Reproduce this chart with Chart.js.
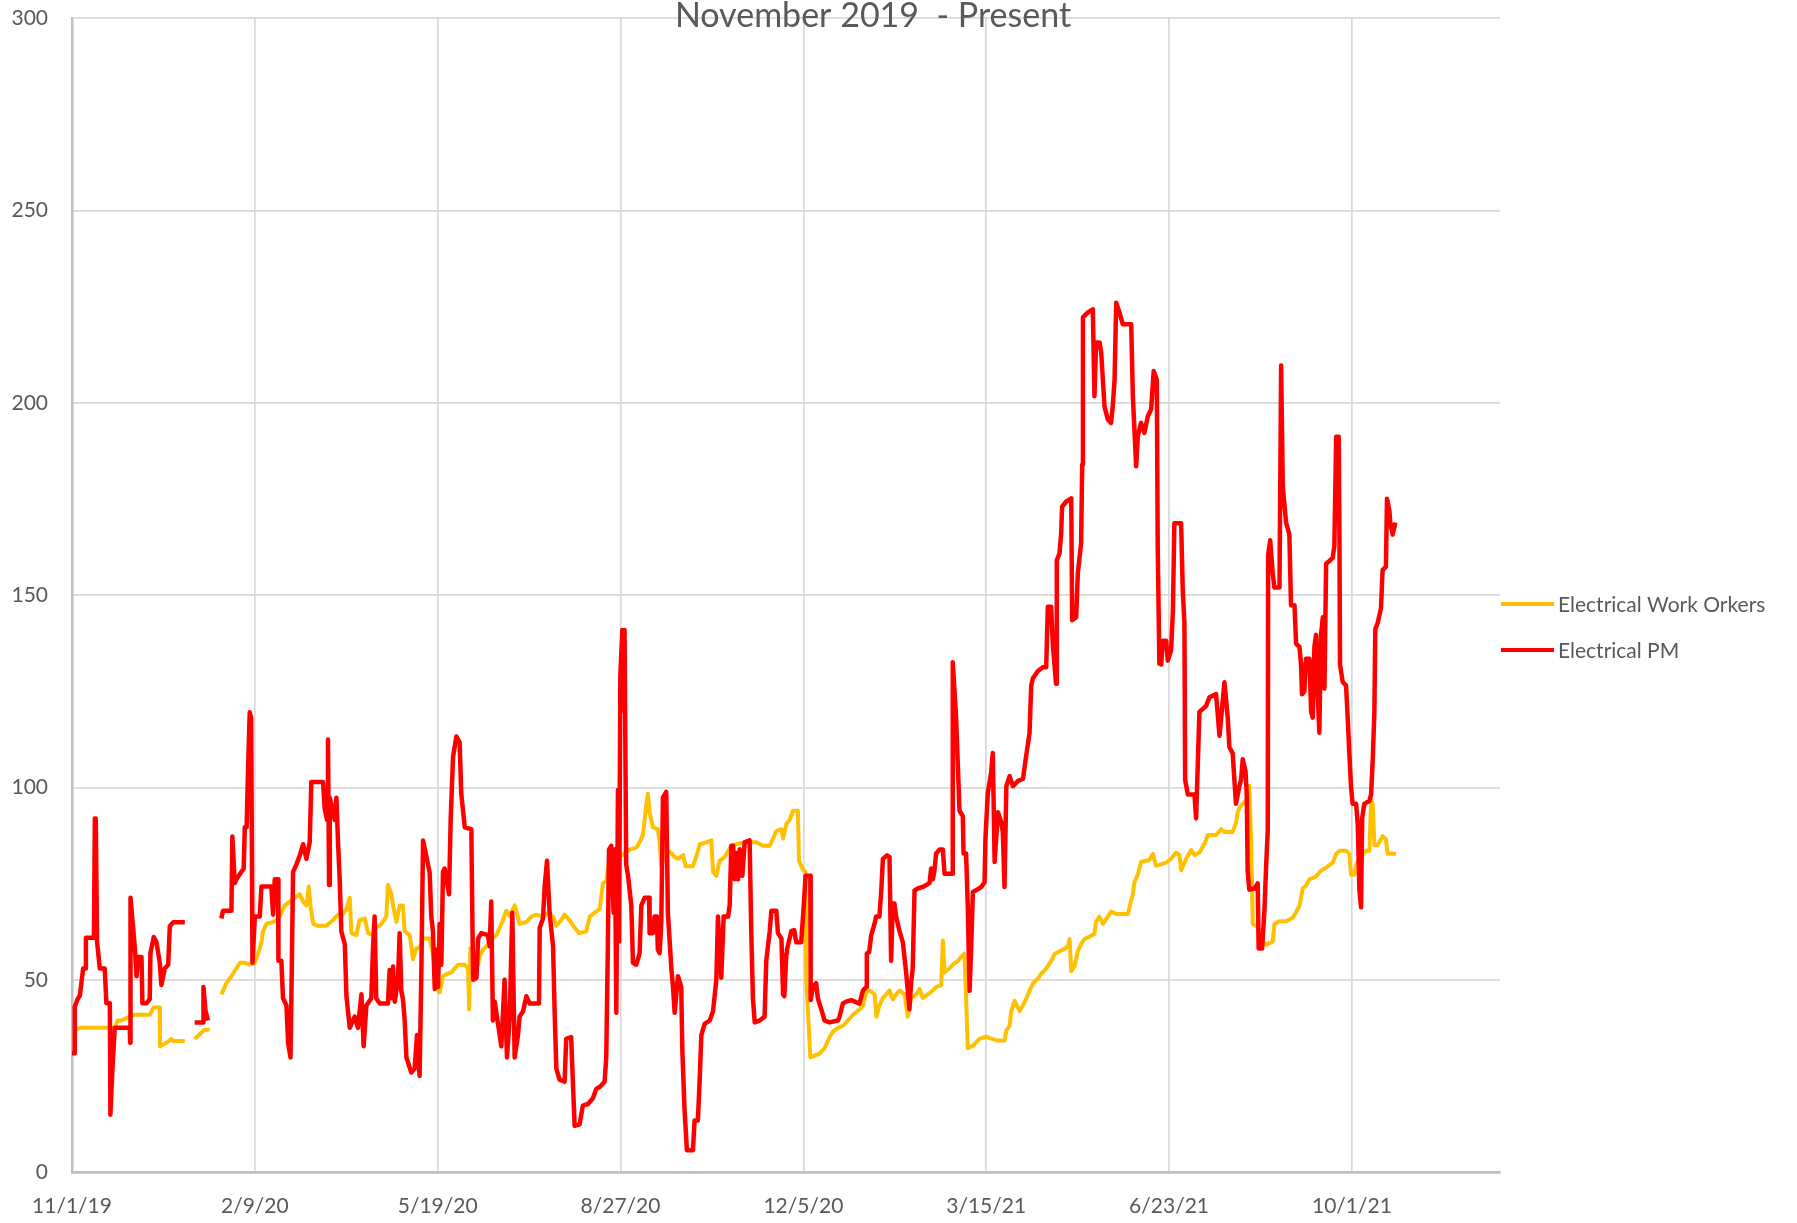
<!DOCTYPE html>
<html>
<head>
<meta charset="utf-8">
<title>Electrical Work Orders vs PM</title>
<script src="https://cdn.jsdelivr.net/npm/chart.js@4.4.1/dist/chart.umd.min.js"></script>
<style>
  html, body { margin: 0; padding: 0; background: #fff; }
  #wrap { width: 1797px; height: 1223px; }
</style>
</head>
<body>
<div id="wrap"><canvas id="chart" width="1797" height="1223"></canvas></div>
<script>
/* ========== DATA ========== */
// x = days since 11/1/19, null = no data (gap in the line)
const chartTitle = "November 2019  - Present";
const xTickLabels = ["11/1/19", "2/9/20", "5/19/20", "8/27/20", "12/5/20", "3/15/21", "6/23/21", "10/1/21"];
const xTickStep = 100;
const xMaxDay = 781;

const woLabel = "Electrical Work Orkers";
const woDays = [
  0, 1.2, 2, 4.3, 23.4, 25, 27, 31.6, 34.3, 42.5, 44.7, 48, 48.1, 51.6, 54.4, 55.3, 61.7,
  64,
  67.1, 70, 72.5, 75.3,
  78,
  81.7, 84.4, 87.2, 91.8, 94.5, 97.2, 100, 101.8, 103.6, 104.5, 106.3, 110, 111.8, 113.6, 116.4,
  119.1, 121.8, 124.6, 126.4, 128.2, 129.5, 130.4, 131.9, 134.6, 139.1, 142.8, 145.5, 147.3,
  150.1, 151.9, 152.8, 155.5, 157.3, 160.1, 161.9, 164.6, 166.4, 169.2, 171.9, 172.8, 174.7,
  175.6, 177.4, 179.2, 181, 181.9, 184.7, 186.5, 188.3, 190.2, 192, 195.6, 197.4, 199.3, 201.1,
  202.9, 204.7, 207.5, 209.3, 211.1, 214.8, 216.6, 217.2, 217.9, 220.3, 222.1, 223, 224.8,
  226.6, 229.3, 232.1, 233.9, 235.7, 237.5, 239.4, 242.1, 243, 244.8, 248.5, 251.2, 254,
  257.6, 260.3, 263.1, 264.9, 267.6, 269.4, 272.1, 274.9, 277.6, 281.3, 283.1, 285.8, 288.6,
  290.4, 292.2, 294, 299.5, 305, 308.6, 310.4, 312.3, 314.1, 315, 315.9, 317.7, 320.4, 321.4,
  322.3, 325, 327.8, 329.6, 331.4, 334.2, 335.6, 339.6, 341.4, 343.3, 346.9, 349.7, 350.6,
  352.4, 354.2, 357, 360.6, 367, 370.6, 374.3, 377.9, 381.6, 383.4, 385.2, 388, 388.9, 390.7,
  392.5, 394.3, 397, 397.6, 399.8, 401.2, 401.6, 403.1, 403.8, 408.9, 411.6, 414.3, 416.2,
  418.9, 421.6, 424.4, 427.1, 430.7, 432.6, 434.4, 436.2, 439, 439.9, 441.6, 443.5, 445.3,
  447.1, 448.9, 450.7, 452.6, 455.3, 457.1, 458.9, 461.7, 463.5, 465.3, 468.1, 470.8, 472.6,
  475.4, 476.3, 477.2, 479.9, 481.7, 484.5, 486.3, 488.1, 489, 489.9, 492.7, 496.3, 500,
  505.5, 510, 511, 512.8, 513.7, 515.5, 518.2, 520.1, 521.9, 523.7, 525.5, 528.3, 530.1,
  532.8, 535.5, 537.4, 540.1, 542.8, 544.7, 545.6, 546.5, 548.3, 550.1, 551.9, 553.8, 556.5,
  559.2, 560.1, 561.9, 563.8, 565.6, 568.3, 571.1, 577.5, 578.4, 580.2, 581.1, 582.9, 584.7,
  589.3, 591.1, 592.9, 598.4, 601.1, 603.8, 605.7, 606.6, 609.3, 612.1, 613.9, 616.6, 619.4,
  621.2, 625.7, 628.5, 630.3, 634.8, 636.6, 637.6, 639.4, 641.2, 643, 643.9, 644.9, 645.8,
  648.5, 650.3, 653.1, 656.7, 657.6, 660.4, 664, 667.7, 669.5, 671.3, 672.2, 673.1, 675,
  676.8, 680.4, 683.1, 685.9, 689.5, 691.4, 693.2, 696.8, 698.6, 699.5, 701.4, 702.3, 704.1,
  707.8, 709.6, 710.5, 711.4, 712.3, 714.1, 716.8, 718.6, 719.5, 724.1
];
const woValues = [
  35.2, 35.5, 37.1, 37.6, 37.6, 39.5, 39.5, 40.5, 41, 41, 42.9, 42.9, 32.8, 33.7, 34.7, 34.2, 34.2,
  null,
  34.7, 36, 37.1, 37.1,
  null,
  46.3, 49.2, 51, 54.5, 54.5, 54, 54.5, 56.9, 59.8, 62.7, 64.6, 65.1, 65.6, 66.5, 69.4,
  70.4, 71.4, 72.3, 70.4, 69.4, 74.3, 69.4, 64.6, 64.1, 64.1, 65.6, 67, 66.5,
  68.5, 71.4, 62.2, 61.7, 65.6, 66, 62.2, 61.7, 63.6, 64.6, 66.5, 74.7, 72.3,
  69.4, 65.1, 69.4, 69.4, 62.7, 61.7, 55.4, 58.3, 58.3, 60.8, 60.8, 56.9, 48.2, 46.8,
  51, 51.5, 52, 53, 54, 54, 53, 42.4, 58.3, 57, 54, 56.4, 57.9,
  58.8, 60.8, 61.7, 63.6, 65.6, 68, 66.5, 69.4, 68, 64.6, 65.1, 66.5, 67,
  66.5, 67.5, 66.5, 64.1, 65.6, 67, 65.6, 63.6, 62.2, 62.7, 66.5, 67.5, 68.5,
  75.2, 75.7, 82, 82, 83.9, 84.4, 85.8, 87.8, 95.5, 98.4, 93.5, 89.7, 89.2, 85.8,
  79.6, 83.9, 83, 82, 81.5, 82.5, 79.6, 79.6, 82, 85.3, 85.8, 86.3, 78.1,
  77.1, 81, 82, 84.9, 85.8, 85.8, 85.8, 84.9, 84.9, 86.8, 88.7, 89.2, 86.8, 90.6,
  91.6, 94, 94, 81, 78.6, 78.1, 50.1, 36.6, 29.9, 30.9, 32.3, 35.2, 36.6,
  37.6, 38.1, 39.5, 41, 42.4, 43.4, 46.8, 47.3, 46.3, 40.5, 43.4, 45.3, 46.3,
  47.3, 45, 46.3, 47.3, 46.3, 40.5, 45.3, 46.3, 47.7, 45.3, 46.3, 47.3, 48.2,
  48.7, 60.3, 52, 53, 54, 55, 56, 56.9, 45.3, 32.3, 32.9, 34.7, 35.3,
  34.3, 34.3, 36.9, 38.1, 42, 44.6, 42, 43.4, 45.2, 47.2, 49.1, 50.4, 51.7,
  53, 54.9, 56.8, 57.5, 58.1, 58.8, 60.7, 52.3, 53.6, 57.5, 59.4, 60.7, 61.3,
  62, 65.2, 66.5, 64.6, 65.8, 67.8, 67.2, 67.2, 69.1, 72.3, 75.5, 77.4, 80.7,
  81.2, 82.8, 79.7, 80.5, 81.5, 83.1, 82.5, 78.5, 81.5, 83.8, 82.5, 83.1, 85.4,
  87.7, 87.7, 89.2, 88.5, 88.5, 90.8, 93.8, 95.4, 96.2, 97, 100.5, 86.2, 64.6,
  63.8, 60, 59.2, 60, 64.6, 65.3, 65.3, 66.2, 67.7, 69.2, 71.5, 73.8, 74.6,
  76.2, 76.9, 78.5, 79.2, 80.5, 82.8, 83.6, 83.6, 82.8, 77.4, 77.4, 80, 81.5,
  83.6, 83.6, 97, 95.8, 85.1, 85.1, 87.4, 86.6, 82.8, 82.8
];

const pmLabel = "Electrical PM";
const pmDays = [
  0, 1.2, 1.5, 3, 4.3, 6.1, 7.5, 7.6, 11.5, 12, 12.5, 13, 13.7, 15.2, 17.9, 18.8, 20.7, 21,
  22.1, 23.4, 31.6, 31.8, 32, 34.3, 35.3, 36, 38, 38.5, 40.7, 42.5, 42.9, 44.7, 46.2, 48, 48.9,
  50.7, 52.6, 53.5, 55.3, 61.7,
  64,
  67.1, 71.7, 71.9, 73, 74.4,
  78,
  81.7, 82.6, 87.2, 87.7, 89, 89.9, 93.9, 94.5, 95.5, 96.3, 97.2, 98, 98.7, 100, 102.7, 103.6,
  109, 110, 110.9, 112.7, 112.9, 114.5, 115.4, 117.3, 118.2, 119.5, 120, 120.9, 122.7, 124.6,
  126.4, 128.2, 130, 130.9, 137.3, 138.2, 139.5, 140, 140.6, 141, 143.7, 144.6, 145.5, 146.4,
  147.3, 149.2, 150.1, 151.9, 154.6, 156.4, 158.3, 159.5, 161, 163.7, 164.6, 165.5, 166.4,
  168.3, 172.8, 173.7, 174.7, 175.6, 176.5, 178.3, 179.2, 180.1, 181, 181.9, 182.9, 185.6,
  187.4, 188.7, 190.1, 191.1, 192, 193, 195.6, 196.5, 197.4, 198.4, 199.3, 200.2, 201.1, 202,
  202.9, 203.8, 206.2, 207.1, 208.4, 210.2, 212, 212.9, 214.8, 218.4, 219, 219.4, 221.2, 222.1,
  223.9, 227.5, 228.4, 229.3, 230.2, 231.2, 233, 234.8, 236.6, 237.9, 239.4, 240.8, 242.1,
  243.9, 244.8, 246.7, 248.5, 250.3, 255.4, 255.8, 257.6, 258.5, 259.8, 261.2, 263.1, 264,
  264.9, 266.7, 269.4, 270.3, 273, 273.9, 274.9, 277.6, 279.4, 282.2, 284.9, 286.7, 288.6,
  291.3, 292.2, 293.1, 293.7, 294.9, 296.2, 297, 297.7, 298.6, 299.2, 299.9, 301, 301.6, 302.2,
  303.1, 304.1, 305.9, 306.8, 308.6, 310.4, 311.4, 313.2, 315.6, 315.9, 317.7, 318.6, 319.9,
  320.4, 321.4, 322.3, 323.2, 325, 325.9, 327.8, 328.7, 329.6, 331.4, 333.2, 333.8, 335, 336.3,
  339.6, 340.5, 342.3, 343.3, 344.2, 346, 348.8, 350.6, 352.4, 353.3, 355.1, 356.4, 358.8,
  359.7, 360.6, 361.6, 362.4, 363.3, 364.3, 365.2, 366.6, 367.9, 370.6, 371.5, 372.4, 373.4,
  376.1, 378.8, 379.7, 381.6, 382.5, 385.2, 386.1, 388, 388.9, 389.6, 390.7, 391, 393.4, 395,
  396.1, 398.8, 400.1, 401.2, 403.8, 404, 405.2, 407, 407.9, 409.8, 411.6, 414.3, 418.9, 419.8,
  421.6, 423.4, 426.2, 430.7, 432.6, 434.4, 434.7, 436, 437.1, 438.9, 439.8, 441.6, 442.6,
  443.5, 445.7, 447.1, 448, 448.9, 449.8, 450.7, 452.6, 454.4, 456.2, 457.1, 458, 458.9, 459.8,
  460.8, 462.6, 465.3, 467.2, 469, 469.9, 470.8, 471.7, 472.6, 474.5, 476.3, 477.2, 481.4,
  481.7, 483.5, 485.4, 487.2, 487.6, 489, 489.9, 490.9, 491.8, 492.7, 495.4, 497.3, 499.1,
  499.6, 500.9, 502.7, 503.6, 504.6, 506.4, 508.2, 509.1, 510, 511, 512.8, 514.6, 517.3, 520.1,
  521.9, 523.7, 524.6, 525.5, 528.3, 531, 532.8, 533.7, 535.5, 536.4, 538.2, 538.6, 540.1, 541,
  541.5, 543.7, 546.5, 547, 549.2, 550.1, 551.9, 552.5, 552.9, 555.6, 558.3, 559.2, 560.1, 562,
  562.9, 564.7, 566.5, 568.3, 569.2, 570.2, 571.1, 572.9, 574.7, 579.3, 580.2, 582, 582.9,
  584.7, 586.5, 588.4, 590.2, 591.6, 593.3, 593.8, 594.7, 595.7, 596.6, 598.4, 599.3, 601.1,
  602.1, 602.9, 606.6, 607.5, 608.4, 608.8, 610.3, 613.9, 614.8, 615.7, 616.6, 620.2, 622.1,
  625.7, 627.6, 629.4, 630.3, 631.5, 632.1, 633, 634.8, 636.6, 638.5, 639.4, 640.3, 641.8,
  642.5, 643, 643.9, 646.8, 648.5, 649, 650.9, 652.2, 653.1, 654, 654.2, 655.3, 656.7, 657.6,
  660.4, 661.3, 662.2, 664, 665.8, 666.7, 668.6, 669.5, 671.3, 672.2, 672.7, 674, 674.9, 676.8,
  677.7, 678.6, 679.5, 680.4, 681.3, 682.2, 683.1, 684.1, 685, 685.9, 687.7, 689.5, 690.4,
  691.4, 692.8, 693.2, 693.5, 695, 696.8, 697.7, 698.6, 699.5, 700.4, 702.3, 703.2, 704.1, 705,
  705.6, 706.8, 709.6, 710.5, 711.4, 712.3, 712.8, 714.1, 715.9, 716.8, 718.6, 719.2, 720.5,
  721, 722.3, 723.8
];
const pmValues = [
  31, 31, 43, 45, 46, 53, 53, 61, 61, 62, 92, 92, 60, 53, 53, 44, 44, 15,
  27, 37.6, 37.6, 33.7, 71.4, 58.8, 51, 56, 56, 44, 44, 45, 57, 61.2, 59.8, 54.5, 48.7,
  53, 54, 64, 65, 65,
  null,
  39, 39, 48.2, 42, 39.5,
  null,
  66, 68, 68, 87.3, 75.2, 76.2, 79, 89.7, 89.7, 105, 119.6, 118, 54.5, 66.5, 66.5, 74.3,
  74.3, 67, 76.2, 76.2, 55, 55, 45.3, 43.4, 33.7, 29.9, 45.8, 78.1, 80, 82.4,
  85.3, 81.5, 85.8, 101.5, 101.5, 94.5, 91.6, 112.5, 74.7, 97.4, 91.6, 97.4, 85.8, 76.2,
  62.7, 59.3, 45.8, 37.6, 40.5, 37.6, 46.3, 32.8, 43.4, 45.3, 57.9, 66.5, 45.3,
  43.9, 43.9, 52.6, 45.3, 53.5, 44.4, 50, 62.2, 47.3, 45, 40, 29.9, 26,
  27, 35.7, 25.1, 53, 86.3, 84, 78, 66.5, 62.7, 47.7, 57.9, 48.2, 64.6, 54,
  78.1, 79, 72.3, 91.6, 108, 113.3, 111.8, 98.4, 89.7, 89.2, 64.6, 50.1, 50.6, 60.8,
  62.2, 61.7, 58.8, 70.4, 39.5, 44.4, 38.6, 32.8, 50.1, 29.9, 40.5, 67.5, 29.9,
  35.7, 40.5, 41.9, 45.8, 43.9, 43.9, 63.6, 66, 74.3, 81, 67.5, 58.8, 41,
  27, 24.1, 23.6, 34.7, 35.2, 24, 12.1, 12.5, 17.4, 17.8, 19.3, 21.7, 22.2,
  23.6, 29.9, 60, 83.9, 84.9, 67.5, 84, 41.5, 99.4, 60, 129.2, 141, 120, 141,
  80, 77.1, 69.4, 54.5, 54, 56.9, 69.4, 71.4, 71.4, 62.2, 62.2, 66.5, 66.5,
  57.9, 57, 65.1, 97.4, 98.9, 67.5, 53, 48.2, 41.5, 51, 48.2, 31.8, 16.4, 5.8,
  5.8, 13.5, 13.5, 24.1, 35.7, 38.6, 39.5, 41.9, 50.1, 66.5, 50.6, 66.5, 66.5,
  69.4, 84.9, 84.9, 76.2, 83, 76.2, 84, 77.1, 85.8, 86.3, 62.7, 45.3, 39,
  39.5, 40.5, 55, 62.7, 68, 68, 62.2, 60.8, 46.3, 45.8, 56.9, 57.9, 62.7, 63,
  59.8, 59.8, 68.5, 77.1, 77.1, 44.8, 48.2, 49.2, 45.3, 42.4, 39.5, 39, 39.5, 40.5,
  43.9, 44.4, 44.8, 43.9, 47.3, 48.2, 56.9, 57.3, 61.7, 64.6, 66.5, 66.5, 73.3,
  81.5, 82.4, 82, 55, 69.9, 69.9, 66.5, 62.7, 59.8, 52, 47.3, 42.4, 49.2, 53,
  73.3, 73.8, 74.2, 74.7, 75.2, 79, 76.2, 78.5, 82.9, 83.9, 83.9, 77.6, 77.6,
  132.6, 118.6, 94, 92.6, 82.9, 82.9, 69.4, 47.2, 58.8, 72.9, 73.6, 74.2, 75.5,
  87.1, 98.7, 103.9, 109, 80.7, 93.6, 91, 88.4, 74.2, 100.4, 103, 100.4, 101.7, 102.3,
  108.4, 114.2, 126.4, 128.4, 130.3, 131.3, 131.3, 147, 147, 137.4, 127, 159.1, 160.9, 166.1,
  173, 174.3, 175.2, 143.5, 144.3, 155.7, 163.5, 184, 222.2, 223.5, 224.3, 201.7, 215.7, 215.7,
  213, 199, 195.7, 194.8, 199.1, 206, 226, 223.5, 220.4, 220.4, 201.7, 183.5, 191.3,
  194.8, 192.2, 196.5, 198.3, 208.3, 206, 162.6, 132.2, 132, 138.2, 138.2, 133, 135.7,
  145.8, 168.7, 168.7, 151.3, 142.8, 102, 98.2, 98.2, 92, 105.8, 119.7, 121.2, 123.5,
  124.3, 113.5, 122.8, 127.4, 121.2, 118.2, 110.5, 108.9, 95.8, 100.5, 102, 107.4, 104.3,
  98.2, 78.2, 73.5, 73.8, 75.1, 58.2, 58.2, 68.5, 79.7, 89.1, 160.5, 164.3, 155.8, 152,
  152, 209.7, 178.2, 168.9, 165.8, 147.4, 147.4, 137.4, 136.6, 132, 124.3, 125, 133.5, 133.5,
  119.7, 118.2, 136.6, 139.7, 124.3, 114.3, 139.7, 144.3, 125.8, 158.2, 158.9, 159.7, 162.8,
  191.2, 191.2, 164.3, 132, 127.4, 126.6, 118.2, 108.9, 100.5, 95.8, 95.8, 90.5, 73.5, 68.9,
  92, 95.8, 96.6, 98.2, 107.4, 119.7, 141.2, 142.8, 146.6, 156.6, 157.4, 175.1, 172,
  168.9, 165.8, 168.9
];

const yMin = 0;
const yMax = 300;
const yStep = 50;

/* ========== STYLE ========== */
const woColor = "#FFC000";
const pmColor = "#FF0000";
const textColor = "#595959";
const gridColor = "#D9D9D9";
const axisColor = "#BFBFBF";
const fontFamily = "Lato, 'Open Sans', sans-serif";

function toPoints(days, values) {
  return days.map((d, i) => ({ x: d, y: values[i] }));
}

/* ========== TITLE + LEGEND (drawn by hand, Excel-style) ========== */
const titleAndLegend = {
  id: "titleAndLegend",
  afterDraw(chart) {
    const ctx = chart.ctx;
    ctx.save();
    ctx.fillStyle = textColor;
    ctx.font = "34px " + fontFamily;
    ctx.textAlign = "center";
    ctx.textBaseline = "alphabetic";
    ctx.fillText(chartTitle, 873, 27);

    const items = [
      { label: woLabel, color: woColor, y: 604 },
      { label: pmLabel, color: pmColor, y: 650 },
    ];
    ctx.font = "21px " + fontFamily;
    ctx.textAlign = "left";
    ctx.textBaseline = "middle";
    items.forEach((it) => {
      ctx.strokeStyle = it.color;
      ctx.lineWidth = 4;
      ctx.beginPath();
      ctx.moveTo(1501, it.y);
      ctx.lineTo(1554, it.y);
      ctx.stroke();
      ctx.fillStyle = textColor;
      ctx.fillText(it.label, 1558, it.y + 1);
    });
    ctx.restore();
  },
};

/* ========== CHART ========== */
const ctx = document.getElementById("chart").getContext("2d");
new Chart(ctx, {
  type: "line",
  data: {
    datasets: [
      {
        label: woLabel,
        data: toPoints(woDays, woValues),
        borderColor: woColor,
        borderWidth: 4,
        pointRadius: 0,
        tension: 0,
        spanGaps: false,
        order: 1,
      },
      {
        label: pmLabel,
        data: toPoints(pmDays, pmValues),
        borderColor: pmColor,
        borderWidth: 4.5,
        pointRadius: 0,
        tension: 0,
        spanGaps: false,
        order: 0,
      },
    ],
  },
  options: {
    responsive: false,
    animation: false,
    layout: { padding: { top: 18, right: 297, left: 0, bottom: 0 } },
    plugins: {
      legend: { display: false },
      title: { display: false },
      tooltip: { enabled: false },
    },
    elements: { line: { borderJoinStyle: "round" } },
    scales: {
      x: {
        type: "linear",
        min: 0,
        max: xMaxDay,
        afterBuildTicks: (scale) => {
          scale.ticks = xTickLabels.map((_, i) => ({ value: i * xTickStep }));
        },
        afterFit: (scale) => {
          scale.height = 50.5;
          scale.paddingLeft = 0;
          scale.paddingRight = 0;
        },
        ticks: {
          autoSkip: false,
          maxRotation: 0,
          padding: 21,
          color: textColor,
          font: { family: fontFamily, size: 21 },
          callback: (v) => xTickLabels[Math.round(v / xTickStep)] || "",
        },
        grid: { color: gridColor, lineWidth: 1.7, drawTicks: false },
        border: { color: axisColor, width: 2.5 },
      },
      y: {
        min: yMin,
        max: yMax,
        afterFit: (scale) => {
          scale.width = 72;
          scale.paddingTop = 0;
          scale.paddingBottom = 0;
        },
        ticks: {
          stepSize: yStep,
          padding: 24,
          color: textColor,
          font: { family: fontFamily, size: 21 },
        },
        grid: { color: gridColor, lineWidth: 1.7, drawTicks: false },
        border: { color: axisColor, width: 2.5 },
      },
    },
  },
  plugins: [titleAndLegend],
});
</script>
</body>
</html>
